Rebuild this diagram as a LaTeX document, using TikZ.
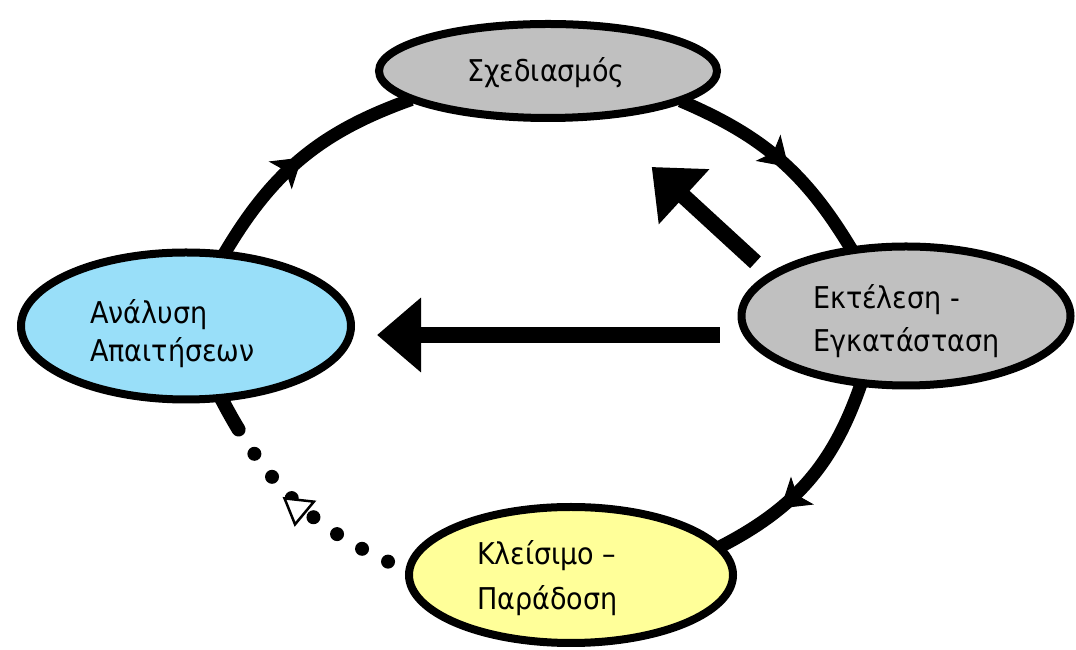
\documentclass[tikz,border=0pt]{standalone}
\usepackage{fontspec}
\setmainfont{DejaVu Sans Condensed}
\usetikzlibrary{arrows.meta,decorations.markings,shapes.geometric}
\pgfdeclarelayer{bg}
\pgfsetlayers{bg,main}
\definecolor{plangray}{HTML}{C0C0C0}
\definecolor{anablue}{HTML}{99DFF9}
\definecolor{cloyellow}{HTML}{FFFF99}
\tikzset{
  phase/.style={ellipse, draw=black, line width=8pt, inner sep=0pt},
  phasetext/.style={align=left, inner sep=0pt, anchor=west,
    font=\fontsize{30pt}{#1}\selectfont},
  phasetext/.default=40pt,
  loopline/.style={line width=13pt, shorten <=-4pt, shorten >=-4pt,
    postaction={decorate, decoration={markings,
      mark=at position #1 with {\arrow[line width=1pt]{Stealth[length=28pt,width=36pt,inset=7pt]}}}}},
  loopline/.default=0.55,
  bigarrow/.style={line width=16pt, -{Triangle[length=44pt,width=72pt]}},
  dotline/.style={line width=14pt, line cap=round, shorten <=-4pt,
    dash pattern=on 36pt off 29pt on 0pt off 29pt on 0pt off 29pt on 0pt off 29pt
      on 0pt off 29pt on 0pt off 29pt on 0pt off 29pt on 0pt off 200pt},
  opentri/.style={line width=2.5pt, fill=white, line join=miter}
}
\begin{document}
\begin{tikzpicture}[x=1pt,y=1pt]
  \useasboundingbox (0,0) rectangle (1076,650);

  % phases
  \node[phase, fill=plangray, minimum width=338pt, minimum height=94pt] (plan) at (548,579) {};
  \node[phase, fill=anablue, minimum width=330pt, minimum height=147pt] (ana) at (186,324) {};
  \node[phase, fill=plangray, minimum width=329pt, minimum height=139pt] (exe) at (906,334) {};
  \node[phase, fill=cloyellow, minimum width=324pt, minimum height=136pt] (clo) at (571,75) {};

  \node[phasetext] (plan-txt) at (467,577.5) {Σχεδιασμός};
  \node[phasetext=38pt] (ana-txt) at (90,316) {Ανάλυση\\Απαιτήσεων};
  \node[phasetext=43pt] (exe-txt) at (813,329) {Εκτέλεση -\\Εγκατάσταση};
  \node[phasetext=45pt] (clo-txt) at (477,72) {Κλείσιμο –\\Παράδοση};

  % cycle
  \begin{pgfonlayer}{bg}
    \draw[loopline=0.5] (ana.62) to[bend left=20] (plan.192);
    \draw[loopline] (plan.-13) to[bend left=18] (exe.129);
    \draw[loopline=0.68] (exe.237) to[bend left=22] (clo.11);
    \draw[dotline] (ana.296) to[bend right=20] coordinate[pos=0.52] (tri) (clo.178);
  \end{pgfonlayer}
  \draw[opentri, shift={(tri)}, rotate=22] (14,0) -- (-12,14) -- (-12,-14) -- cycle;

  % feedback
  \coordinate (hlev) at (0,315);
  \draw[bigarrow, shorten <=18pt, shorten >=22pt] (exe.west |- hlev) -- (ana.east |- hlev);
  \draw[bigarrow, shorten <=17pt, shorten >=70pt] (exe.163) -- (plan.317);
\end{tikzpicture}
\end{document}
